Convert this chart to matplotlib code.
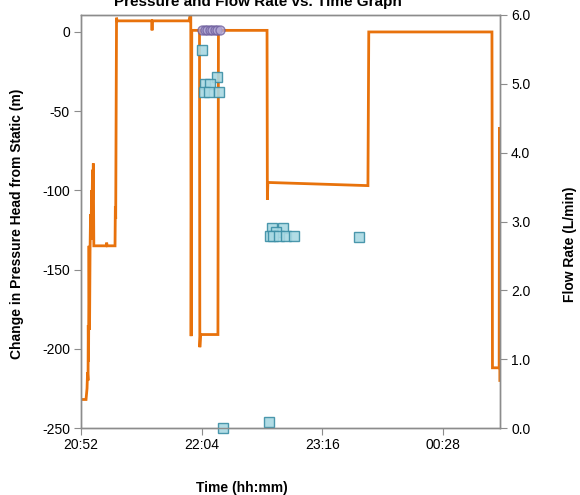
import matplotlib
matplotlib.use("Agg")
import matplotlib.pyplot as plt
from matplotlib.ticker import FuncFormatter

# time axis: minutes after 20:52
start_hour, start_min = 20, 52

# pressure head trace (left axis)
press_min = [0, 3.0, 3.6, 3.9, 4.2, 4.35, 4.5, 4.8, 5.1, 5.4, 5.7, 6.0, 6.3, 6.6,
             6.9, 7.2, 7.35, 7.65, 15.0, 15.3, 15.6, 20.3, 20.5, 20.7, 21.2, 21.5,
             42.2, 42.4, 42.6, 64.4, 65.0, 65.5, 65.7, 66.1, 70.7, 70.9, 71.3,
             81.7, 82.0, 111.0, 111.2, 111.5, 171.2, 171.7, 245.2, 245.5, 249.5,
             249.7, 249.9, 250.5]
press_head = [-232, -232, -225, -215, -220, -185, -208, -135, -188, -138, -115,
              -131, -100, -109, -87, -106, -83, -135, -135, -133, -135, -135,
              -110, -118, 9, 7, 7, 1, 7, 7, 10, 10, -192, 1, 1, -199, -191,
              -191, 1, 1, -106, -95, -97, 0, 0, -212, -212, -60, -220, -220]

# flow rate readings (right axis)
flow_min = [72.4, 81.1, 74.0, 77.0, 73.4, 76.4, 82.3, 84.9, 113.7, 120.7, 116.3,
            112.7, 114.7, 118.3, 122.3, 127.2, 166.0, 112.1]
flow_rate = [5.49, 5.10, 5.00, 5.00, 4.88, 4.88, 4.88, 0.00, 2.90, 2.90, 2.85,
             2.79, 2.79, 2.79, 2.79, 2.79, 2.78, 0.09]

# readings at the top of the flow scale
max_min = [72.2, 73.7, 75.2, 76.7, 78.2, 79.7, 81.2, 82.7]
max_rate = [5.78, 5.78, 5.78, 5.78, 5.78, 5.78, 5.78, 5.78]

tick_min = [0, 72, 144, 216]


def clock(m, pos=None):
    total = (start_hour * 60 + start_min + int(round(m))) % (24 * 60)
    return "%02d:%02d" % (total // 60, total % 60)


plt.rcParams['font.family'] = ['Liberation Sans', 'DejaVu Sans']
plt.rcParams['font.size'] = 10
plt.rcParams['axes.unicode_minus'] = False

fig = plt.figure(figsize=(5.8, 4.95), dpi=100)
ax = fig.add_axes([81 / 580, 1 - 428 / 495, 419 / 580, 413 / 495])
ax2 = ax.twinx()

ax.plot(press_min, press_head, color='#e8720c', lw=2.0, solid_joinstyle='miter')
ax.set_xlim(0, 250)
ax.set_ylim(-250, 10.7)
ax.set_yticks([0, -50, -100, -150, -200, -250])
ax.set_xticks(tick_min)
ax.xaxis.set_major_formatter(FuncFormatter(clock))

ax2.plot(flow_min, flow_rate, ls='none', marker='s', ms=6.5, mfc='#a9d9e3',
         mec='#3b8ea5', mew=1.0, alpha=0.9, clip_on=False)
ax2.plot(max_min, max_rate, ls='none', marker='o', ms=6.5, mfc='#b3a9d6',
         mec='#6b5b9b', mew=1.0, alpha=0.75, clip_on=False)
ax2.set_ylim(0, 6)
ax2.set_yticks([0, 1, 2, 3, 4, 5, 6])
ax2.yaxis.set_major_formatter(FuncFormatter(lambda v, p: "%.1f" % v))

for a in (ax, ax2):
    for s in a.spines.values():
        s.set_color('#8c8c8c')
        s.set_linewidth(1.0)
    a.tick_params(direction='out', length=5, color='#8c8c8c', labelsize=10,
                  pad=3)
ax.tick_params(axis='x', pad=2)

fig.text(17 / 580, 1 - 224 / 495, 'Change in Pressure Head from Static (m)',
         fontweight='bold', fontsize=10, rotation=90, ha='center', va='center')
fig.text(570 / 580, 1 - 244 / 495, 'Flow Rate (L/min)',
         fontweight='bold', fontsize=10, rotation=90, ha='center', va='center')
fig.text(242 / 580, 1 - 488 / 495, 'Time (hh:mm)',
         fontweight='bold', fontsize=10, ha='center', va='center')

fig.text(0.445, 0.996, 'Pressure and Flow Rate vs. Time Graph',
         fontweight='bold', fontsize=11, ha='center', va='center')

fig.savefig('out.png', dpi=100)
plt.close()
